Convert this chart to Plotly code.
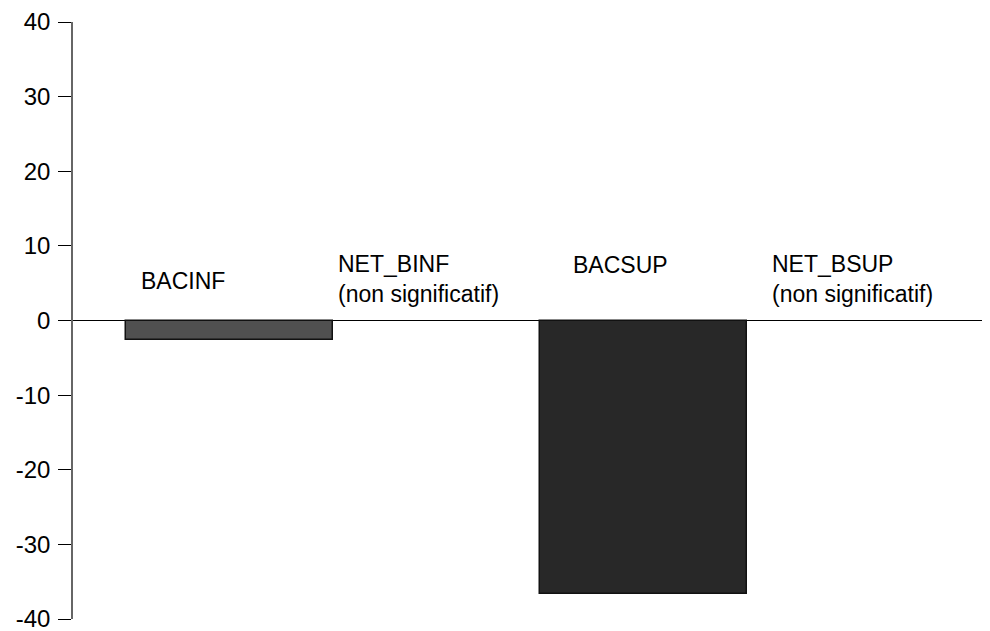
import plotly.graph_objects as go

# effets estimés par niveau de diplôme
categories = ["BACINF", "NET_BINF", "BACSUP", "NET_BSUP"]
values = [-2.6, None, -36.6, None]
bar_colors = ["#505050", "#505050", "#282828", "#282828"]
labels = ["BACINF", "NET_BINF<br>(non significatif)", "BACSUP",
          "NET_BSUP<br>(non significatif)"]
yticks = [-40, -30, -20, -10, 0, 10, 20, 30, 40]
yticklabels = ["-40", "-30", "-20", "-10", "0", "10", "20", "30", "40"]

# placement des libellés (décalage px, hauteur en unités de l'axe)
label_dx = [-90, -100, -72, -80]
label_y = [5.3, 5.55, 7.4, 5.55]

fig = go.Figure()
fig.add_trace(go.Bar(x=categories, y=values, width=1.0,
                     marker=dict(color=bar_colors,
                                 line=dict(color="#111111", width=1.5)),
                     showlegend=False))

for i in range(len(categories)):
    fig.add_annotation(x=categories[i], y=label_y[i], text=labels[i],
                       showarrow=False, xanchor="left", yanchor="middle",
                       xshift=label_dx[i], align="left",
                       font=dict(size=23, color="#000000"))

fig.update_xaxes(range=[-0.754, 3.676], showticklabels=False, ticks="",
                 showline=False, showgrid=False, zeroline=False,
                 automargin=False)
fig.update_yaxes(range=[-40, 40], tickvals=yticks, ticktext=yticklabels,
                 ticks="outside", ticklen=13, tickcolor="#000000",
                 tickwidth=1, showline=True, linecolor="#666666",
                 linewidth=1.5, showgrid=False, zeroline=True,
                 zerolinecolor="#000000", zerolinewidth=1,
                 ticklabelstandoff=3, automargin=False,
                 ticklabeloverflow="allow",
                 tickfont=dict(size=24, color="#000000"))
# la page ajoute 8 px de marge autour de la figure
fig.update_layout(width=982, height=623,
                  margin=dict(l=65, r=0, t=14, b=12),
                  plot_bgcolor="white", paper_bgcolor="white",
                  font=dict(family="Liberation Sans, Arial, sans-serif"),
                  bargap=0)

fig.write_html("out.html")
